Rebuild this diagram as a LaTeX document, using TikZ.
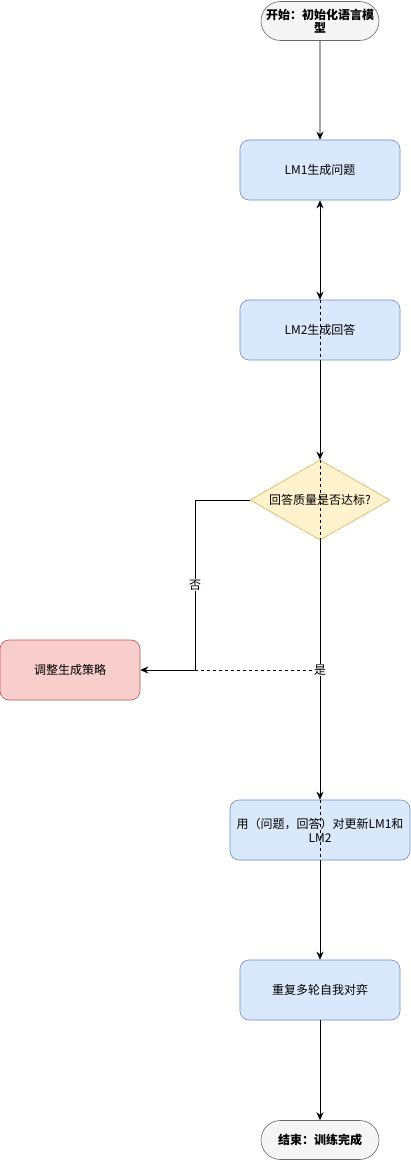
\documentclass[tikz,border=0pt]{standalone}
\usepackage{fontspec}
\setmainfont{Noto Sans CJK SC}
\usetikzlibrary{arrows.meta,shapes.geometric,shapes.misc}
\definecolor{bfill}{HTML}{DAE8FC}\definecolor{bdraw}{HTML}{6C8EBF}
\definecolor{yfill}{HTML}{FFF2CC}\definecolor{ydraw}{HTML}{D6B656}
\definecolor{rfill}{HTML}{F8CECC}\definecolor{rdraw}{HTML}{B85450}
\definecolor{gfill}{HTML}{F5F5F5}\definecolor{gdraw}{HTML}{666666}
\begin{document}
\begin{tikzpicture}[x=1pt,y=-1pt,
  font=\fontsize{12}{14}\selectfont,
  proc/.style={draw=bdraw,fill=bfill,rounded corners=9pt,minimum width=160pt,minimum height=60pt,align=center,inner sep=2pt,line width=0.6pt},
  term/.style={draw=gdraw,fill=gfill,rounded rectangle,minimum width=120pt,minimum height=39pt,align=center,inner sep=1pt,line width=0.6pt},
  dec/.style={draw=ydraw,fill=yfill,diamond,aspect=1.75,minimum width=140pt,minimum height=80pt,inner sep=0pt,line width=0.6pt},
  arr/.style={-{Stealth[length=8pt,width=7pt]},line width=0.9pt},
  lbl/.style={fill=white,inner sep=1pt}]
\useasboundingbox (0,0) rectangle (411,1161);
\node[term] (start) at (320,21) {\textbf{开始：初始化语言模}\\[-1pt]\textbf{型}};
\node[proc] (lm1) at (320,170) {LM1生成问题};
\node[proc] (lm2) at (320,330) {LM2生成回答};
\node[dec] (q) at (320,500) {};
\node at (320,500) {回答质量是否达标?};
\node[proc,draw=rdraw,fill=rfill,minimum width=140pt] (adj) at (70,670) {调整生成策略};
\node[proc,minimum width=180pt] (upd) at (320,830) {用（问题，回答）对更新LM1和\\LM2};
\node[proc] (rep) at (320,990) {重复多轮自我对弈};
\node[term] (end) at (320,1140) {\textbf{结束：训练完成}};
\coordinate (nk1) at (195,500);
\coordinate (nk2) at (195,670);
\coordinate (yk) at (320,670);
\draw[arr] (start) -- (lm1);
\draw[{Stealth[length=8pt,width=7pt]}-{Stealth[length=8pt,width=7pt]},line width=0.9pt] (lm1) -- (lm2);
\draw[arr] (lm2) -- (q);
\draw[arr] (q.west) -- (nk1) -- node[lbl,pos=0.5]{否} (nk2) -- (adj.east);
\draw[arr] (q.south) -- (upd.north);
\draw[arr] (upd) -- (rep);
\draw[arr] (rep) -- (end);
\draw[dashed,line width=0.7pt] (nk2) -- (yk);
\draw[dashed,line width=0.7pt] (lm2.north) -- (lm2.south);
\draw[dashed,line width=0.7pt] (q.north) -- (q.south);
\draw[dashed,line width=0.7pt] (upd.north) -- (upd.south);
\node[lbl] (yes) at (320,670) {是};
\end{tikzpicture}
\end{document}
